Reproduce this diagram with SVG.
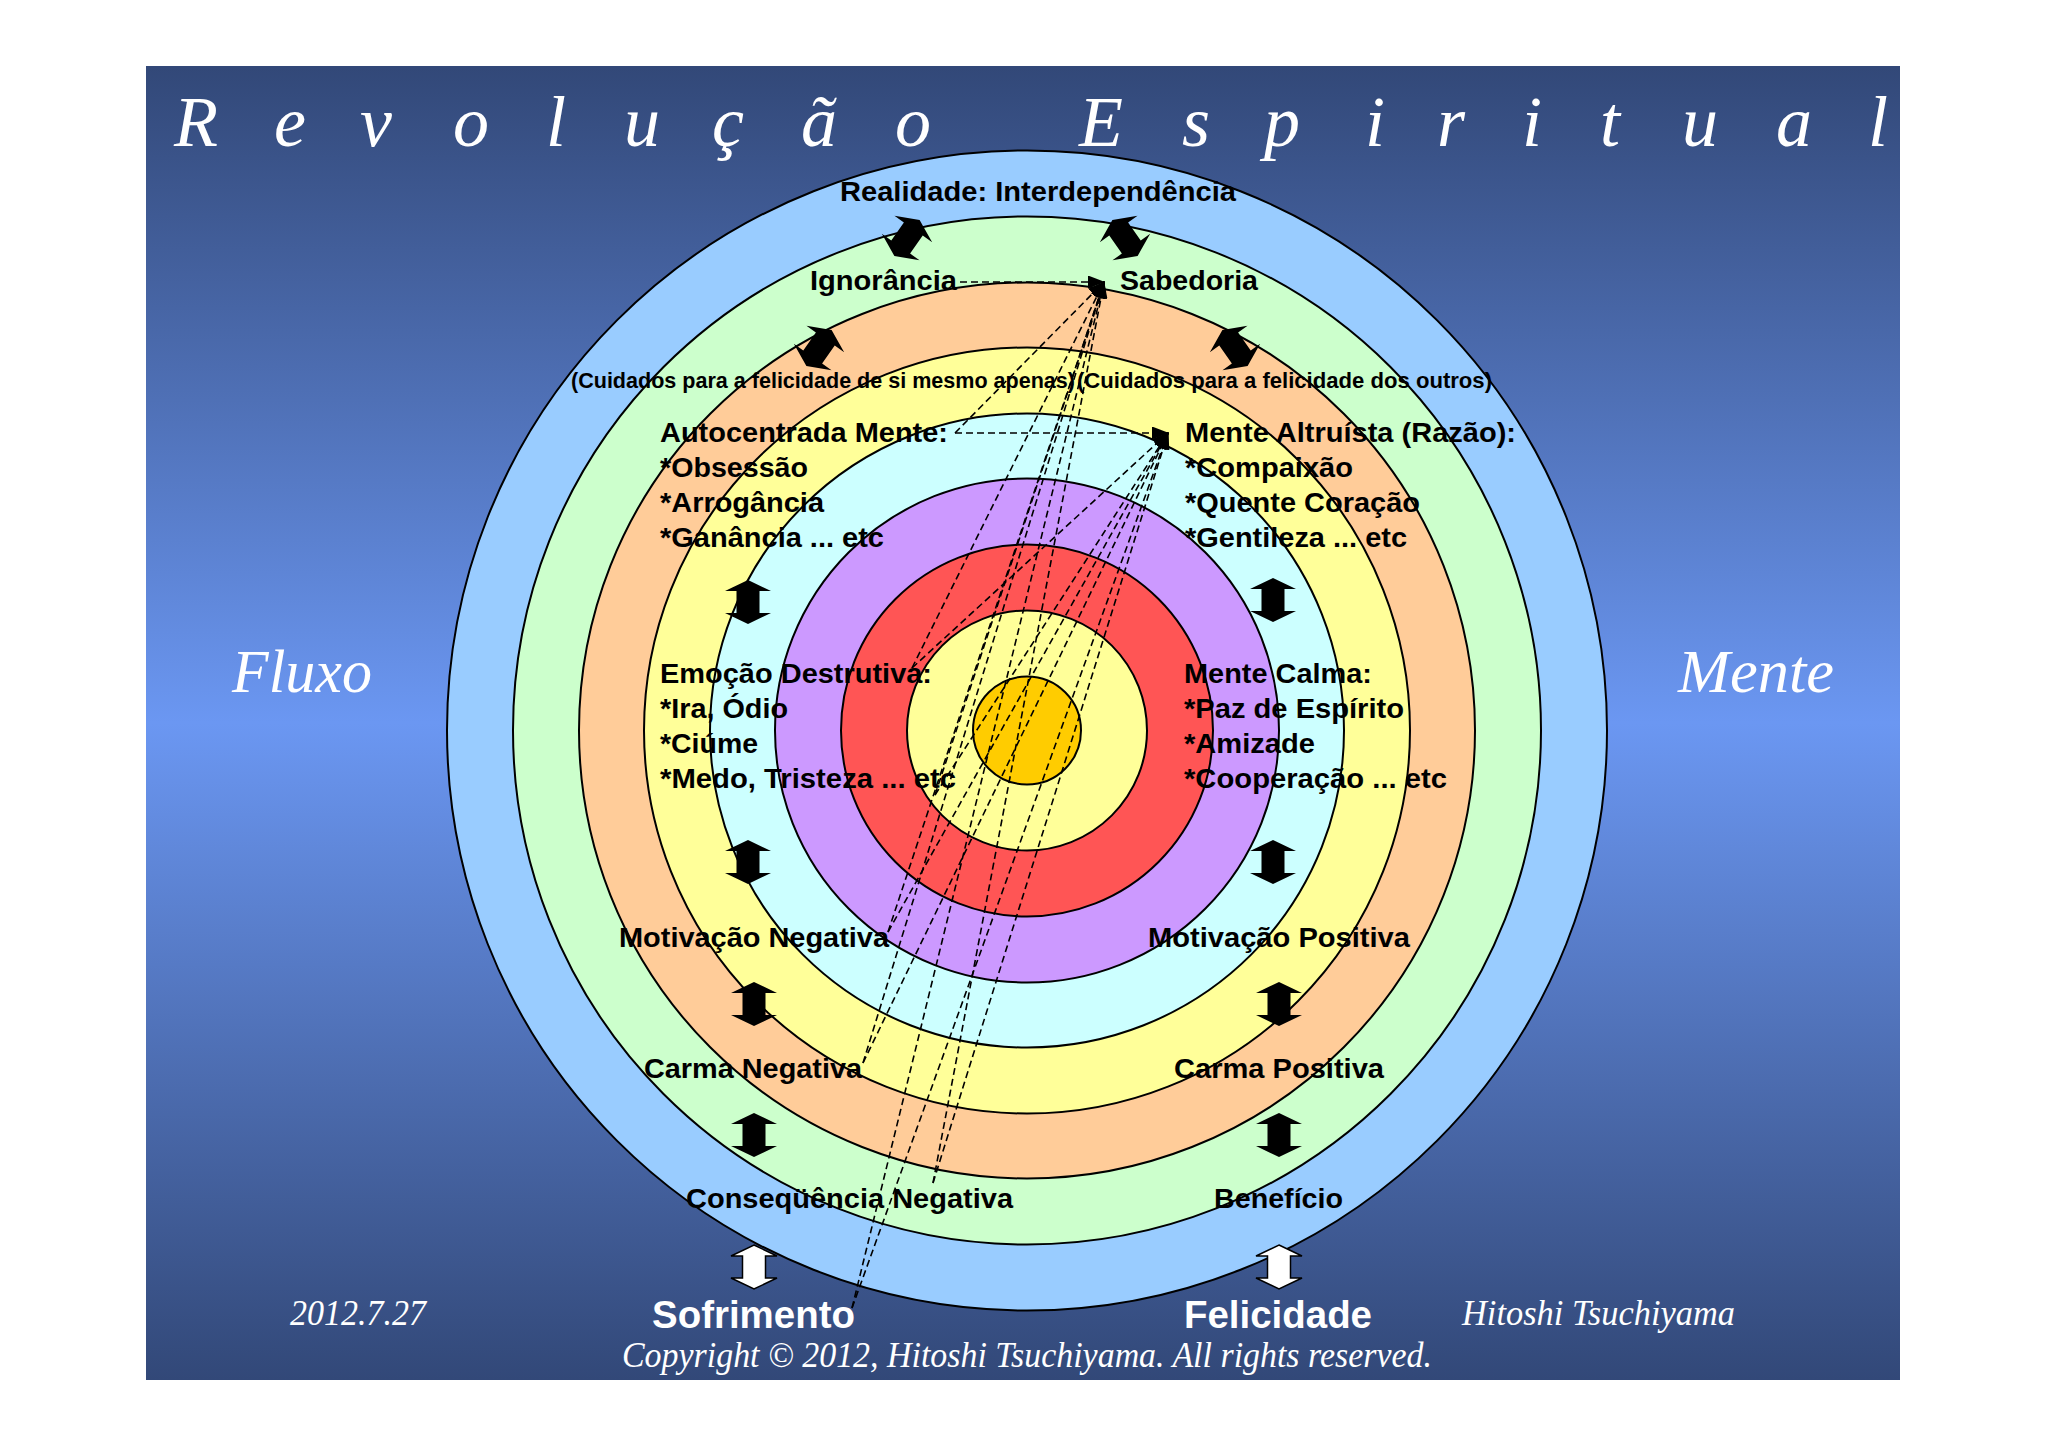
<svg xmlns="http://www.w3.org/2000/svg" xmlns:xlink="http://www.w3.org/1999/xlink" width="2048" height="1447" viewBox="0 0 2048 1447">
<defs>
<linearGradient id="bg" x1="0" y1="0" x2="0" y2="1">
<stop offset="0" stop-color="#324878"/>
<stop offset="0.5" stop-color="#6b97f2"/>
<stop offset="1" stop-color="#324878"/>
</linearGradient>
<marker id="ah" markerWidth="17" markerHeight="13" refX="16" refY="6.5" orient="auto" markerUnits="userSpaceOnUse">
<path d="M0,0 L17,6.5 L0,13 z" fill="#000"/>
</marker>
<path id="dbl" d="M0,-22 L23,-11 L11.5,-11 L11.5,11 L23,11 L0,22 L-23,11 L-11.5,11 L-11.5,-11 L-23,-11 Z"/>
<style>
.ring{stroke:#000;stroke-width:2}
.lbl{font-family:"Liberation Sans",Arial,sans-serif;font-weight:bold;font-size:28px;fill:#000}
.sm{font-size:22px}
.big{font-size:38px;fill:#fff}
.cal{font-family:"Liberation Serif","Times New Roman",serif;font-style:italic;fill:#fff}
.dash{stroke:#000;stroke-width:1.6;stroke-dasharray:7 4;fill:none}
.blk{fill:#000}
.wht{fill:#fff;stroke:#000;stroke-width:1.5}
</style>
</defs>
<rect x="0" y="0" width="2048" height="1447" fill="#fff"/>
<rect x="146" y="66" width="1754" height="1314" fill="url(#bg)"/>

<g id="title">
<text class="cal" font-size="72" y="146" x="174 274 360 453 546 624 712 801 895 990 1079 1182 1264 1365 1437 1522 1600 1682 1776 1868">Revolução Espiritual</text>
</g>
<g id="fluxo"><text class="cal" font-size="62" x="232" y="692" textLength="140" lengthAdjust="spacingAndGlyphs">Fluxo</text></g>
<g id="mente"><text class="cal" font-size="62" x="1678" y="692" textLength="156" lengthAdjust="spacingAndGlyphs">Mente</text></g>

<g id="rings">
<circle class="ring" cx="1027" cy="730.5" r="580" fill="#99ccff"/>
<circle class="ring" cx="1027" cy="730.5" r="514" fill="#ccffcc"/>
<circle class="ring" cx="1027" cy="730.5" r="448" fill="#ffcc99"/>
<circle class="ring" cx="1027" cy="730.5" r="383" fill="#ffff99"/>
<circle class="ring" cx="1027" cy="730.5" r="317" fill="#ccffff"/>
<circle class="ring" cx="1027" cy="730.5" r="252" fill="#cc99ff"/>
<circle class="ring" cx="1027" cy="730.5" r="186" fill="#ff5555"/>
<circle class="ring" cx="1027" cy="730.5" r="120" fill="#ffff99"/>
<circle class="ring" cx="1027" cy="730.5" r="54" fill="#ffcc00"/>
</g>

<g id="arrows">
<use xlink:href="#dbl" class="blk" transform="translate(907,238) rotate(35)"/>
<use xlink:href="#dbl" class="blk" transform="translate(1125,238) rotate(-35)"/>
<use xlink:href="#dbl" class="blk" transform="translate(819,348) rotate(35)"/>
<use xlink:href="#dbl" class="blk" transform="translate(1235,348) rotate(-35)"/>
<use xlink:href="#dbl" class="blk" transform="translate(748,602)"/>
<use xlink:href="#dbl" class="blk" transform="translate(748,862)"/>
<use xlink:href="#dbl" class="blk" transform="translate(754,1004)"/>
<use xlink:href="#dbl" class="blk" transform="translate(754,1135)"/>
<use xlink:href="#dbl" class="blk" transform="translate(1273,600)"/>
<use xlink:href="#dbl" class="blk" transform="translate(1273,862)"/>
<use xlink:href="#dbl" class="blk" transform="translate(1279,1004)"/>
<use xlink:href="#dbl" class="blk" transform="translate(1279,1135)"/>
<use xlink:href="#dbl" class="wht" transform="translate(754,1267)"/>
<use xlink:href="#dbl" class="wht" transform="translate(1279,1267)"/>
</g>

<g id="l-realidade"><text class="lbl" x="840" y="201" textLength="396" lengthAdjust="spacingAndGlyphs">Realidade: Interdependência</text></g>
<g id="l-ignorancia"><text class="lbl" x="810" y="290" textLength="147" lengthAdjust="spacingAndGlyphs">Ignorância</text></g>
<g id="l-sabedoria"><text class="lbl" x="1120" y="290" textLength="138" lengthAdjust="spacingAndGlyphs">Sabedoria</text></g>
<g id="l-cuidados1"><text class="lbl sm" x="571" y="388" textLength="504" lengthAdjust="spacingAndGlyphs">(Cuidados para a felicidade de si mesmo apenas)</text></g>
<g id="l-cuidados2"><text class="lbl sm" x="1077" y="388" textLength="415" lengthAdjust="spacingAndGlyphs">(Cuidados para a felicidade dos outros)</text></g>
<g id="l-autocentrada">
<text class="lbl" x="660" y="442" textLength="288" lengthAdjust="spacingAndGlyphs">Autocentrada Mente:</text>
<text class="lbl" x="660" y="477" textLength="148" lengthAdjust="spacingAndGlyphs">*Obsessão</text>
<text class="lbl" x="660" y="512" textLength="164" lengthAdjust="spacingAndGlyphs">*Arrogância</text>
<text class="lbl" x="660" y="547" textLength="224" lengthAdjust="spacingAndGlyphs">*Ganância ... etc</text>
</g>
<g id="l-altruista">
<text class="lbl" x="1185" y="442" textLength="331" lengthAdjust="spacingAndGlyphs">Mente Altruísta (Razão):</text>
<text class="lbl" x="1185" y="477" textLength="168" lengthAdjust="spacingAndGlyphs">*Compaixão</text>
<text class="lbl" x="1185" y="512" textLength="235" lengthAdjust="spacingAndGlyphs">*Quente Coração</text>
<text class="lbl" x="1185" y="547" textLength="222" lengthAdjust="spacingAndGlyphs">*Gentileza ... etc</text>
</g>
<g id="l-emocao">
<text class="lbl" x="660" y="683" textLength="272" lengthAdjust="spacingAndGlyphs">Emoção Destrutiva:</text>
<text class="lbl" x="660" y="718" textLength="128" lengthAdjust="spacingAndGlyphs">*Ira, Ódio</text>
<text class="lbl" x="660" y="753" textLength="98" lengthAdjust="spacingAndGlyphs">*Ciúme</text>
<text class="lbl" x="660" y="788" textLength="296" lengthAdjust="spacingAndGlyphs">*Medo, Tristeza ... etc</text>
</g>
<g id="l-calma">
<text class="lbl" x="1184" y="683" textLength="188" lengthAdjust="spacingAndGlyphs">Mente Calma:</text>
<text class="lbl" x="1184" y="718" textLength="220" lengthAdjust="spacingAndGlyphs">*Paz de Espírito</text>
<text class="lbl" x="1184" y="753" textLength="131" lengthAdjust="spacingAndGlyphs">*Amizade</text>
<text class="lbl" x="1184" y="788" textLength="263" lengthAdjust="spacingAndGlyphs">*Cooperação ... etc</text>
</g>
<g id="l-motneg"><text class="lbl" x="619" y="947" textLength="270" lengthAdjust="spacingAndGlyphs">Motivação Negativa</text></g>
<g id="l-motpos"><text class="lbl" x="1148" y="947" textLength="262" lengthAdjust="spacingAndGlyphs">Motivação Positiva</text></g>
<g id="l-carneg"><text class="lbl" x="644" y="1078" textLength="218" lengthAdjust="spacingAndGlyphs">Carma Negativa</text></g>
<g id="l-carpos"><text class="lbl" x="1174" y="1078" textLength="210" lengthAdjust="spacingAndGlyphs">Carma Positiva</text></g>
<g id="l-conseq"><text class="lbl" x="686" y="1208" textLength="327" lengthAdjust="spacingAndGlyphs">Conseqüência Negativa</text></g>
<g id="l-beneficio"><text class="lbl" x="1214" y="1208" textLength="129" lengthAdjust="spacingAndGlyphs">Benefício</text></g>
<g id="l-sofrimento"><text class="lbl big" x="652" y="1328" textLength="203" lengthAdjust="spacingAndGlyphs">Sofrimento</text></g>
<g id="l-felicidade"><text class="lbl big" x="1184" y="1328" textLength="188" lengthAdjust="spacingAndGlyphs">Felicidade</text></g>

<g id="connectors">
<line class="dash" x1="960" y1="282" x2="1104" y2="282" marker-end="url(#ah)"/>
<line class="dash" x1="955" y1="433" x2="1168" y2="433" marker-end="url(#ah)"/>
<line class="dash" x1="955" y1="433" x2="1104" y2="282" marker-end="url(#ah)"/>
<line class="dash" x1="912" y1="668" x2="1104" y2="282" marker-end="url(#ah)"/>
<line class="dash" x1="912" y1="668" x2="1168" y2="433" marker-end="url(#ah)"/>
<line class="dash" x1="935" y1="795" x2="1104" y2="282" marker-end="url(#ah)"/>
<line class="dash" x1="935" y1="795" x2="1168" y2="433" marker-end="url(#ah)"/>
<line class="dash" x1="888" y1="932" x2="1104" y2="282" marker-end="url(#ah)"/>
<line class="dash" x1="888" y1="932" x2="1168" y2="433" marker-end="url(#ah)"/>
<line class="dash" x1="863" y1="1063" x2="1104" y2="282" marker-end="url(#ah)"/>
<line class="dash" x1="863" y1="1063" x2="1168" y2="433" marker-end="url(#ah)"/>
<line class="dash" x1="933" y1="1183" x2="1104" y2="282" marker-end="url(#ah)"/>
<line class="dash" x1="933" y1="1183" x2="1168" y2="433" marker-end="url(#ah)"/>
<line class="dash" x1="852" y1="1308" x2="1104" y2="282" marker-end="url(#ah)"/>
<line class="dash" x1="852" y1="1308" x2="1168" y2="433" marker-end="url(#ah)"/>
</g>

<g id="footer">
<text class="cal" font-size="36" x="290" y="1325" textLength="136" lengthAdjust="spacingAndGlyphs">2012.7.27</text>
<text class="cal" font-size="36" x="1462" y="1325" textLength="273" lengthAdjust="spacingAndGlyphs">Hitoshi Tsuchiyama</text>
<text class="cal" font-size="36" x="622" y="1367" textLength="810" lengthAdjust="spacingAndGlyphs">Copyright © 2012, Hitoshi Tsuchiyama. All rights reserved.</text>
</g>
</svg>
